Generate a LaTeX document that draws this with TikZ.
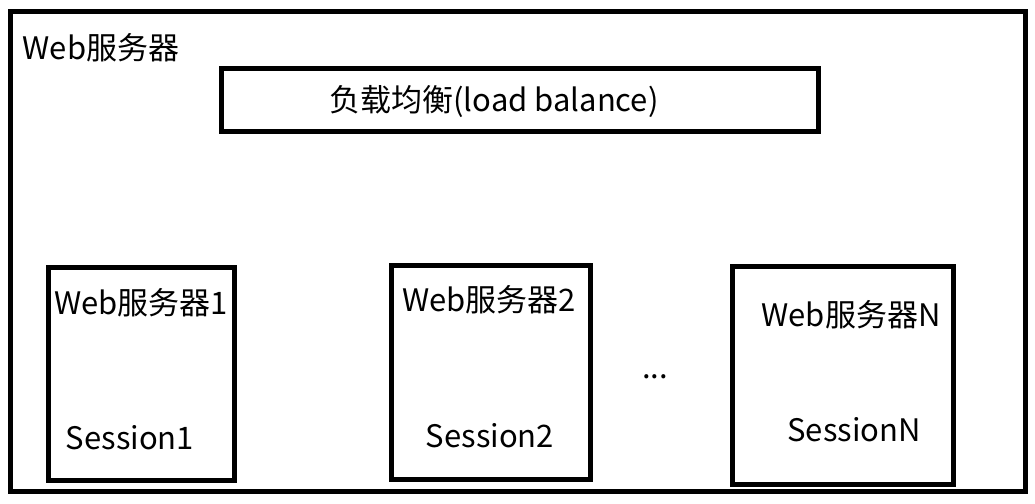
\documentclass[tikz,border=0pt]{standalone}
\usepackage{fontspec}
\setmainfont{Noto Sans CJK SC}
\begin{document}
\begin{tikzpicture}[x=1pt,y=-1pt,
  frame/.style={draw=black,line width=5pt},
  lbl/.style={inner sep=0pt,font=\fontsize{31}{34}\selectfont}]
\useasboundingbox[fill=white] (0,0) rectangle (1035,503);
\node[frame,minimum width=1015pt,minimum height=479pt,inner sep=0pt] (outer) at (517.5,251.5) {};
\node[frame,minimum width=597pt,minimum height=63pt,inner sep=0pt] (lb) at (519.5,99.5) {};
\node[frame,minimum width=186pt,minimum height=213pt,inner sep=0pt] (s1) at (141,373.5) {};
\node[frame,minimum width=199pt,minimum height=214pt,inner sep=0pt] (s2) at (490.5,372) {};
\node[frame,minimum width=221pt,minimum height=218pt,inner sep=0pt] (sn) at (842.5,375) {};
\node[lbl] (t0) at (101,48) {Web服务器};
\node[lbl] (tlb) at (494,102) {负载均衡(load balance)};
\node[lbl] (t1) at (141,303) {Web服务器1};
\node[lbl] (u1) at (130,438) {Session1};
\node[lbl] (t2) at (489,300) {Web服务器2};
\node[lbl] (u2) at (490,436) {Session2};
\node[lbl] (tn) at (851,315) {Web服务器N};
\node[lbl] (un) at (854,430) {SessionN};
\node[lbl] (dots) at (655,377) {...};
\end{tikzpicture}
\end{document}
